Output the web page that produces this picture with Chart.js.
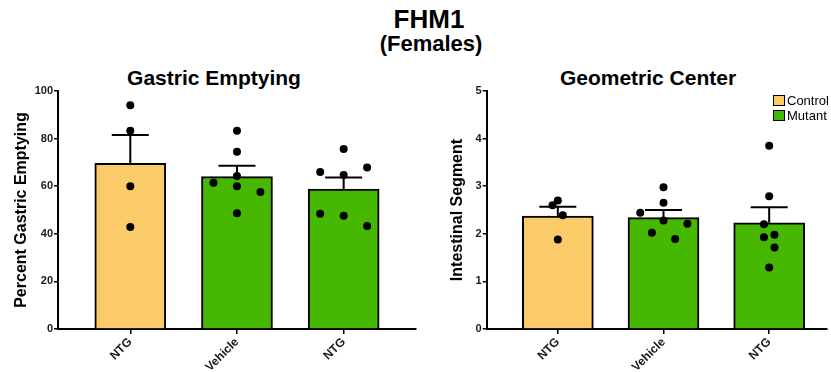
<!DOCTYPE html>
<html>
<head>
<meta charset="utf-8">
<script src="https://cdn.jsdelivr.net/npm/chart.js@4.4.1/dist/chart.umd.min.js"></script>
<style>
  html, body { margin: 0; padding: 0; background: #fff; overflow: hidden; }
  body { width: 831px; height: 372px; position: relative; font-family: "Liberation Sans", Arial, sans-serif; color: #000; }
  .t { position: absolute; font-weight: bold; white-space: nowrap; transform: translateX(-50%); }
  canvas { position: absolute; top: 0; }
  .leg { position: absolute; left: 773px; font-size: 13px; line-height: 15px; white-space: nowrap; }
  .leg div { height: 15px; }
  .leg span.box { display: inline-block; width: 10px; height: 9px; border: 1.5px solid #000; vertical-align: -1px; margin-right: 2px; }
</style>
</head>
<body>
<div class="t" style="left:429px; top:6px; font-size:26px; line-height:26px;">FHM1</div>
<div class="t" style="left:431px; top:33px; font-size:22px; line-height:22px;">(Females)</div>
<div class="t" style="left:214px; top:67px; font-size:21px; line-height:21px;">Gastric Emptying</div>
<div class="t" style="left:648px; top:67px; font-size:21px; line-height:21px;">Geometric Center</div>
<canvas id="c1" width="420" height="372" style="left:0px;"></canvas>
<canvas id="c2" width="411" height="372" style="left:420px;"></canvas>
<div class="leg" style="top:93px;">
  <div><span class="box" style="background:#FCCB69"></span>Control</div>
  <div><span class="box" style="background:#46B801"></span>Mutant</div>
</div>
<script>
// ---- data ----
const categories = ['NTG', 'Vehicle', 'NTG'];
const groupNames = ['Control', 'Mutant', 'Mutant'];

const gastricMeans = [69.6, 64.0, 58.8];
const gastricUpperSEM = [81.5, 68.6, 63.7];
const gastricDots = [
  [94.0, 83.3, 60.0, 42.9],
  [83.3, 74.5, 61.5, 64.3, 60.0, 57.6, 48.6],
  [75.6, 66.0, 64.7, 67.9, 48.4, 47.6, 43.3]
];
const gastricDotOffsets = [
  [0, 0, 0, 0],
  [0, 0, -0.22, 0, 0, 0.22, 0],
  [0, -0.22, 0, 0.22, -0.22, 0, 0.22]
];
const gastricTicks = [0, 20, 40, 60, 80, 100];

const geoMeans = [2.37, 2.34, 2.23];
const geoUpperSEM = [2.57, 2.50, 2.56];
const geoDots = [
  [2.70, 2.60, 2.39, 1.88],
  [2.98, 2.65, 2.44, 2.28, 2.21, 2.02, 1.89],
  [3.85, 2.79, 2.20, 1.93, 1.98, 1.71, 1.29]
];
const geoDotOffsets = [
  [0, -0.05, 0.047, 0],
  [0, 0, -0.22, 0, 0.226, -0.11, 0.11],
  [0, 0, -0.05, -0.05, 0.05, 0.05, 0]
];
const geoTicks = [0, 1, 2, 3, 4, 5];

// ---- styling ----
const groupColors = { Control: '#FCCB69', Mutant: '#46B801' };
const FONT = '"Liberation Sans", Arial, sans-serif';
Chart.defaults.font.family = FONT;

function errorBarPlugin(means, uppers) {
  return {
    id: 'errbars',
    afterDatasetDraw(chart, args) {
      if (args.index !== 1) return;
      const ctx = chart.ctx, xs = chart.scales.x, ys = chart.scales.y;
      ctx.save();
      ctx.strokeStyle = '#000';
      ctx.lineWidth = 2;
      means.forEach((m, i) => {
        const x = xs.getPixelForValue(i + 1);
        const y0 = ys.getPixelForValue(m);
        const y1 = ys.getPixelForValue(uppers[i]);
        ctx.beginPath();
        ctx.moveTo(x, y0); ctx.lineTo(x, y1);
        ctx.moveTo(x - 18.5, y1); ctx.lineTo(x + 18.5, y1);
        ctx.stroke();
      });
      ctx.restore();
    }
  };
}

function makeChart(id, cfg) {
  const dots = [];
  cfg.dots.forEach((arr, i) => arr.forEach((v, j) => dots.push({ x: i + 1 + cfg.offsets[i][j], y: v })));
  const bars = cfg.means.map((m, i) => ({ x: i + 1, y: m }));
  return new Chart(document.getElementById(id), {
    type: 'bar',
    data: {
      datasets: [
        { type: 'scatter', data: dots, backgroundColor: '#000', borderColor: '#000', pointRadius: 4, pointHoverRadius: 4, borderWidth: 0 },
        { type: 'bar', data: bars, backgroundColor: groupNames.map(g => groupColors[g]), borderColor: '#000', borderWidth: 2, barThickness: 71, borderSkipped: 'start' }
      ]
    },
    options: {
      responsive: false,
      animation: false,
      devicePixelRatio: 1,
      layout: { padding: { top: 91, right: cfg.padRight, bottom: 0, left: 0 } },
      plugins: { legend: { display: false }, tooltip: { enabled: false } },
      scales: {
        x: {
          type: 'linear',
          offset: false,
          min: cfg.xmin, max: cfg.xmax,
          afterBuildTicks: s => { s.ticks = categories.map((c, i) => ({ value: i + 1 })); },
          afterFit: s => { s.height = 43; },
          ticks: {
            autoSkip: false, minRotation: 45, maxRotation: 45, padding: 1,
            color: '#1a1a1a', font: { size: 12, weight: 'bold' },
            callback: v => categories[Math.round(v) - 1]
          },
          grid: { drawOnChartArea: false, drawTicks: true, tickLength: 5, color: '#000', lineWidth: 1.5, offset: false },
          border: { display: true, color: '#000', width: 2 }
        },
        y: {
          min: cfg.yTicks[0], max: cfg.yTicks[cfg.yTicks.length - 1],
          afterBuildTicks: s => { s.ticks = cfg.yTicks.map(v => ({ value: v })); },
          afterFit: s => { s.width = cfg.yWidth; },
          ticks: { padding: 1, color: '#1a1a1a', font: { size: 11, weight: 'bold' } },
          grid: { drawOnChartArea: false, drawTicks: true, tickLength: 4, color: '#000', lineWidth: 1.5 },
          border: { display: true, color: '#000', width: 2 },
          title: { display: true, text: cfg.yTitle, color: '#000', font: { size: 16, weight: 'bold' }, padding: { top: cfg.titlePad, bottom: 0 } }
        }
      }
    },
    plugins: [errorBarPlugin(cfg.means, cfg.uppers)]
  });
}

makeChart('c1', {
  means: gastricMeans, uppers: gastricUpperSEM, dots: gastricDots, offsets: gastricDotOffsets,
  yTicks: gastricTicks, yTitle: 'Percent Gastric Emptying',
  xmin: 0.3224, xmax: 3.678, padRight: 3, yWidth: 58, titlePad: 11.5
});
makeChart('c2', {
  means: geoMeans, uppers: geoUpperSEM, dots: geoDots, offsets: geoDotOffsets,
  yTicks: geoTicks, yTitle: 'Intestinal Segment',
  xmin: 0.327, xmax: 3.547, padRight: 0, yWidth: 66.7, titlePad: 28.4
});
</script>
</body>
</html>
